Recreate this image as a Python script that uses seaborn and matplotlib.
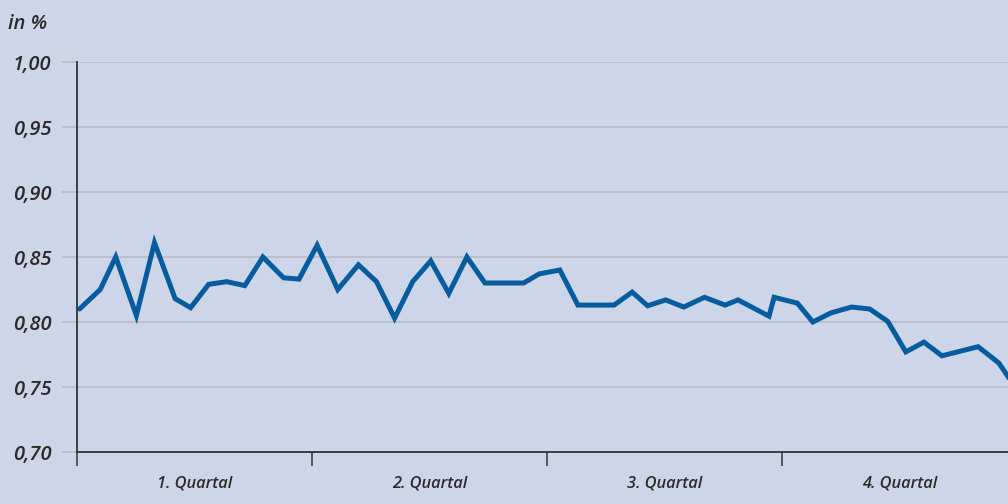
import numpy as np
import pandas as pd
import matplotlib
matplotlib.use('Agg')
import matplotlib.pyplot as plt
import seaborn as sns

days = [1, 9, 15, 23, 30, 38, 44, 51, 58, 65, 72, 80, 86, 93, 101, 109, 116,
        123, 130, 137, 144, 151, 158, 165, 173, 179, 187, 194, 201, 208, 215,
        221, 228, 235, 243, 251, 256, 268, 270, 279, 285, 292, 300, 307, 314,
        321, 328, 335, 342, 349, 357, 364]
values = [0.810, 0.825, 0.850, 0.805, 0.861, 0.818, 0.811, 0.829, 0.831, 0.828,
          0.850, 0.834, 0.833, 0.859, 0.825, 0.844, 0.831, 0.803, 0.831, 0.847,
          0.822, 0.850, 0.830, 0.830, 0.830, 0.837, 0.840, 0.813, 0.813, 0.813,
          0.823, 0.8125, 0.817, 0.8115, 0.819, 0.813, 0.817, 0.8045, 0.819,
          0.8145, 0.800, 0.807, 0.8115, 0.810, 0.8005, 0.777, 0.7845, 0.774,
          0.7775, 0.781, 0.7685, 0.748]
quarter_bounds = [0, 91, 182, 273]
quarter_labels = ['1. Quartal', '2. Quartal', '3. Quartal', '4. Quartal']
y_ticks = [0.70, 0.75, 0.80, 0.85, 0.90, 0.95, 1.00]

bg = '#cdd6e8'
line_color = '#075c9f'
grid_color = '#b7bac2'
text_color = '#2b2b2b'

sns.set_theme(style='white')
plt.rcParams['font.family'] = ['Open Sans', 'DejaVu Sans']

df = pd.DataFrame({'day': days, 'value': values})

fig = plt.figure(figsize=(10.08, 5.04), dpi=100, facecolor=bg)
ax = fig.add_axes([77 / 1008, 1 - 452 / 504, 1 - 77 / 1008, (452 - 62) / 504])
ax.set_facecolor(bg)

sns.lineplot(data=df, x='day', y='value', ax=ax, color=line_color,
             linewidth=3.6, solid_joinstyle='miter', clip_on=True)

ax.set_xlim(0, (1008 - 77) / 2.582)
ax.set_ylim(0.70, 1.00)

# y axis: gray grid lines and gray outward ticks
ax.set_yticks(y_ticks)
ax.set_yticklabels([f'{v:.2f}'.replace('.', ',') for v in y_ticks])
ax.yaxis.grid(True, color=grid_color, linewidth=1.1)
ax.xaxis.grid(False)
ax.tick_params(axis='y', length=10.5, width=1.1, color=grid_color, pad=8,
               left=True)
ax.yaxis.get_major_ticks()[0].tick1line.set_color('#333333')

# x axis: quarter boundaries as ticks, labels in the middle
ax.set_xticks(quarter_bounds)
ax.set_xticklabels([])
ax.set_xticks([b + 45.5 for b in quarter_bounds], minor=True)
ax.set_xticklabels(quarter_labels, minor=True)
ax.tick_params(axis='x', which='major', length=10, width=1.1, color='#333333',
               bottom=True, direction='out')
ax.tick_params(axis='x', which='minor', length=0, pad=17, bottom=True)

for lab in ax.get_yticklabels() + ax.get_xticklabels(minor=True):
    lab.set_style('italic')
    lab.set_fontweight('semibold')
    lab.set_color(text_color)
for lab in ax.get_yticklabels():
    lab.set_fontsize(14.5)
for lab in ax.get_xticklabels(minor=True):
    lab.set_fontsize(11.8)

for side in ['top', 'right']:
    ax.spines[side].set_visible(False)
for side in ['left', 'bottom']:
    ax.spines[side].set_color('#333333')
    ax.spines[side].set_linewidth(1.3)

ax.set_xlabel('')
ax.set_ylabel('')

fig.text(8 / 1008, 1 - 24 / 504, 'in %', ha='left', va='center',
         fontsize=14.5, style='italic', fontweight='semibold', color=text_color)

fig.savefig('out.png', dpi=100, facecolor=bg)
